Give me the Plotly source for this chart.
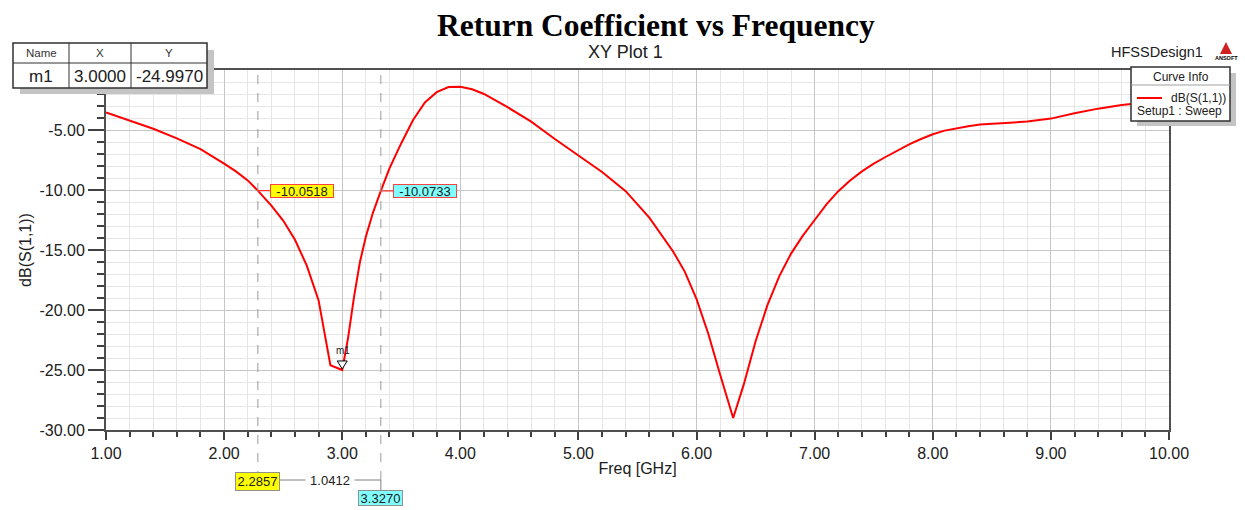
import plotly.graph_objects as go

# ---------------- data ----------------
freq = [1.00, 1.20, 1.40, 1.60, 1.80, 2.00, 2.10, 2.20, 2.2857, 2.40, 2.50, 2.60, 2.70, 2.80, 2.85, 2.90,
        3.00, 3.05, 3.10, 3.15, 3.20, 3.26, 3.327, 3.40, 3.50, 3.60, 3.70, 3.80, 3.90, 4.00, 4.10, 4.20,
        4.40, 4.60, 4.80, 5.00, 5.20, 5.40, 5.60, 5.80, 5.90, 6.00, 6.10, 6.20, 6.31, 6.40, 6.50,
        6.60, 6.70, 6.80, 6.90, 7.00, 7.10, 7.20, 7.30, 7.40, 7.50, 7.60, 7.70, 7.80, 7.90, 8.00,
        8.10, 8.20, 8.30, 8.40, 8.60, 8.80, 9.00, 9.20, 9.40, 9.60, 9.80, 10.00]
s11_db = [-3.53, -4.20, -4.90, -5.70, -6.60, -7.80, -8.45, -9.20, -10.05, -11.30, -12.55, -14.15, -16.30, -19.20, -21.80, -24.60,
          -25.00, -22.30, -18.90, -16.00, -13.90, -11.90, -10.07, -8.20, -6.10, -4.17, -2.70, -1.85, -1.42, -1.40, -1.60, -2.00,
          -3.10, -4.30, -5.75, -7.10, -8.50, -10.10, -12.30, -15.10, -16.80, -19.10, -22.00, -25.40, -29.00, -26.20, -22.60,
          -19.60, -17.20, -15.30, -13.80, -12.50, -11.20, -10.10, -9.20, -8.45, -7.80, -7.25, -6.70, -6.20, -5.75, -5.35,
          -5.05, -4.85, -4.68, -4.55, -4.42, -4.30, -4.05, -3.60, -3.22, -2.92, -2.70, -2.50]

x_range = [1, 10]
y_range = [-30, 0]
x_tick_vals = [1, 2, 3, 4, 5, 6, 7, 8, 9, 10]
x_tick_text = ["1.00", "2.00", "3.00", "4.00", "5.00", "6.00", "7.00", "8.00", "9.00", "10.00"]
y_tick_vals = [-30, -25, -20, -15, -10, -5]
y_tick_text = ["-30.00", "-25.00", "-20.00", "-15.00", "-10.00", "-5.00"]

m1_name = "m1"
m1_x = 3.0
m1_y = -24.9970
m1_x_text = "3.0000"
m1_y_text = "-24.9970"

line_marker_x = [2.2857, 3.3270]
line_marker_x_text = ["2.2857", "3.3270"]
line_marker_y = [-10.0518, -10.0733]
line_marker_y_text = ["-10.0518", "-10.0733"]
line_marker_delta_text = "1.0412"
line_marker_colors = ["#ffff00", "#80ffff"]

title_text = "Return Coefficient vs Frequency"
plot_name = "XY Plot 1"
design_name = "HFSSDesign1"
trace_name = "dB(S(1,1))"
setup_name = "Setup1 : Sweep"

# ---------------- layout helpers ----------------
W, H = 1245, 510
ML, MT, MR, MB = 106, 70, 76, 80
PW = W - ML - MR
PH = H - MT - MB


def px(x):
    return (x - ML) / PW


def py(y):
    return (MT + PH - y) / PH


SANS = "Liberation Sans, Arial, sans-serif"
TXT = "#202020"

fig = go.Figure()
fig.add_trace(go.Scatter(x=freq, y=s11_db, mode="lines", name=trace_name,
                         line=dict(color="#ff0000", width=2), showlegend=False))

shapes = []
annotations = []


def rect(x0, y0, x1, y1, fill, line=None, lw=1):
    shapes.append(dict(type="rect", xref="paper", yref="paper", x0=px(x0), x1=px(x1),
                       y0=py(y0), y1=py(y1), fillcolor=fill, layer="above",
                       line=dict(color=line or fill, width=lw if line else 0)))


def pline(x0, y0, x1, y1, color, lw=1, dash="solid"):
    shapes.append(dict(type="line", xref="paper", yref="paper", x0=px(x0), x1=px(x1),
                       y0=py(y0), y1=py(y1), layer="above",
                       line=dict(color=color, width=lw, dash=dash)))


def ptext(x, y, text, size, anchor="center", color=TXT, family=SANS):
    annotations.append(dict(xref="paper", yref="paper", x=px(x), y=py(y), text=text,
                            showarrow=False, xanchor=anchor, yanchor="middle",
                            font=dict(family=family, size=size, color=color)))


# titles
ptext(656, 25, "<b>" + title_text + "</b>", 31.5, color="#000000",
      family="Liberation Serif, Times New Roman, serif")
ptext(625, 52, plot_name, 18)
ptext(1157, 52, design_name, 14.5)

# Ansoft logo
shapes.append(dict(type="path", xref="paper", yref="paper", layer="above",
                   path="M {} {} L {} {} L {} {} Z".format(px(1220), py(54), px(1226), py(42), px(1232), py(54)),
                   fillcolor="#d02020", line=dict(color="#d02020", width=0)))
ptext(1226, 58, "<b>ANSOFT</b>", 5.5, color="#000000")

# marker table (top-left)
rect(20, 50, 214, 94, "#c4c4c4")
rect(13, 43, 207, 88, "#ffffff", "#303030", 1.5)
pline(13, 63, 207, 63, "#303030", 1)
pline(69, 43, 69, 88, "#303030", 1)
pline(131, 43, 131, 88, "#303030", 1)
ptext(41, 53.5, "Name", 11.5, color="#333333")
ptext(100, 53.5, "X", 11.5, color="#333333")
ptext(169, 53.5, "Y", 11.5, color="#333333")
ptext(41, 76, m1_name, 17)
ptext(100, 76, m1_x_text, 17)
ptext(169, 76, m1_y_text, 17)

# curve info (legend)
rect(1137, 73, 1236, 126, "#c4c4c4")
rect(1131, 67, 1230, 121, "#ffffff", "#303030", 1.5)
pline(1131, 85, 1230, 85, "#a0a0a0", 1)
ptext(1181, 76.5, "Curve Info", 12)
pline(1137, 98, 1162, 98, "#ff0000", 2)
ptext(1228, 98, trace_name, 12, anchor="right")
ptext(1135, 111, setup_name, 12, anchor="left")

# line markers: dashed verticals and labels
y_conn = py(480)
for i, (mx, my) in enumerate(zip(line_marker_x, line_marker_y)):
    shapes.append(dict(type="line", xref="x", yref="paper", x0=mx, x1=mx, y0=y_conn, y1=1,
                       layer="above", line=dict(color="#9a9a9a", width=1, dash="dash")))
    annotations.append(dict(x=mx, y=my, xref="x", yref="y", text=line_marker_y_text[i],
                            showarrow=True, ax=44, ay=0, axref="pixel", ayref="pixel",
                            arrowhead=0, arrowwidth=1.2, arrowcolor="#ff3030", standoff=0,
                            bgcolor=line_marker_colors[i], bordercolor="#ff4040", borderwidth=1,
                            borderpad=0, width=62, height=12,
                            font=dict(family=SANS, size=13, color=TXT)))

# delta connector below axis
shapes.append(dict(type="line", xref="x", yref="paper", x0=line_marker_x[0], x1=line_marker_x[1],
                   y0=y_conn, y1=y_conn, layer="above", line=dict(color="#808080", width=1)))
shapes.append(dict(type="line", xref="x", yref="paper", x0=line_marker_x[1], x1=line_marker_x[1],
                   y0=y_conn, y1=py(490), layer="above", line=dict(color="#808080", width=1)))
annotations.append(dict(x=(line_marker_x[0] + line_marker_x[1]) / 2, y=y_conn, xref="x", yref="paper",
                        xshift=11, text=line_marker_delta_text, showarrow=False, bgcolor="#ffffff",
                        width=48, height=14, borderpad=0, yanchor="middle",
                        font=dict(family=SANS, size=13, color=TXT)))
annotations.append(dict(x=line_marker_x[0], y=py(481.5), xref="x", yref="paper",
                        text=line_marker_x_text[0], showarrow=False, bgcolor=line_marker_colors[0],
                        bordercolor="#909090", borderwidth=1, borderpad=0, width=43, height=17,
                        yanchor="middle", font=dict(family=SANS, size=13, color=TXT)))
annotations.append(dict(x=line_marker_x[1], y=py(498), xref="x", yref="paper",
                        text=line_marker_x_text[1], showarrow=False, bgcolor=line_marker_colors[1],
                        bordercolor="#909090", borderwidth=1, borderpad=0, width=43, height=14,
                        yanchor="middle", font=dict(family=SANS, size=13, color=TXT)))

# m1 marker
shapes.append(dict(type="path", xref="x", yref="y", xsizemode="pixel", ysizemode="pixel",
                   xanchor=m1_x, yanchor=m1_y, path="M -5,9 L 5,9 L 0,1 Z", layer="above",
                   fillcolor="#ffffff", line=dict(color="#000000", width=1)))
annotations.append(dict(x=m1_x, y=m1_y, xref="x", yref="y", text=m1_name, showarrow=False,
                        yshift=19, xshift=1, font=dict(family=SANS, size=10, color=TXT)))

axis_common = dict(showline=True, linecolor="#505050", linewidth=2, mirror=True,
                   ticks="outside", tickcolor="#404040", tickwidth=1.5,
                   showgrid=True, gridcolor="#c6c6c6", gridwidth=1, zeroline=False,
                   tickfont=dict(family=SANS, size=16, color=TXT))

fig.update_layout(
    width=W, height=H, autosize=False,
    margin=dict(l=ML, r=MR, t=MT, b=MB),
    paper_bgcolor="#ffffff", plot_bgcolor="#ffffff",
    showlegend=False,
    xaxis=dict(range=x_range, tickmode="array", tickvals=x_tick_vals, ticktext=x_tick_text,
               ticklen=8,
               minor=dict(tickmode="linear", tick0=1, dtick=0.2, ticks="outside", ticklen=5,
                          tickcolor="#404040", showgrid=True, gridcolor="#e6e6e6", gridwidth=1),
               title=dict(text="Freq [GHz]", standoff=2, font=dict(family=SANS, size=16, color=TXT)),
               **axis_common),
    yaxis=dict(range=y_range, tickmode="array", tickvals=y_tick_vals, ticktext=y_tick_text,
               ticklen=16,
               minor=dict(tickmode="linear", tick0=0, dtick=1, ticks="outside", ticklen=7,
                          tickcolor="#404040", showgrid=True, gridcolor="#e6e6e6", gridwidth=1),
               title=dict(text="dB(S(1,1))", standoff=4, font=dict(family=SANS, size=16, color=TXT)),
               **axis_common),
    shapes=shapes,
    annotations=annotations,
)

fig.write_html("out.html")
